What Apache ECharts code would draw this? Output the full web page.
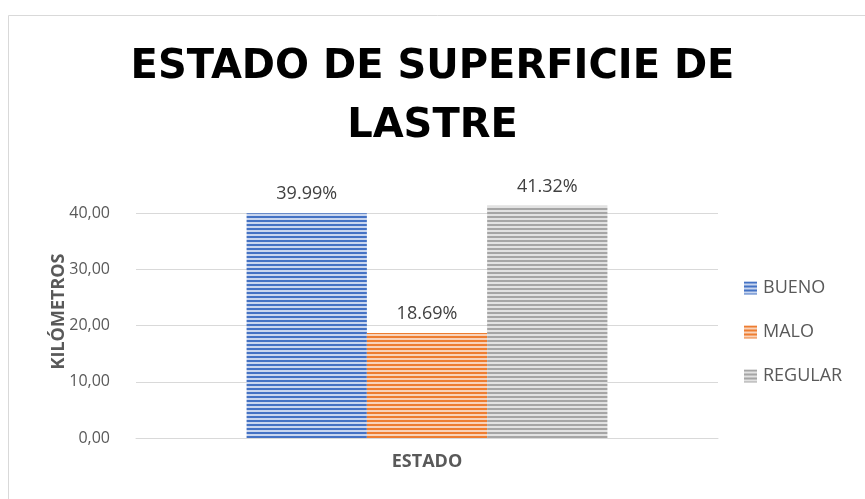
<!DOCTYPE html>
<html>
<head>
<meta charset="utf-8">
<title>Estado de superficie de lastre</title>
<script src="https://cdn.jsdelivr.net/npm/echarts@6/dist/echarts.min.js"></script>
<style>
  html, body { margin: 0; padding: 0; background: #fff; }
  #chart { width: 865px; height: 499px; }
</style>
</head>
<body>
<div id="chart"></div>
<script>
  // datos
  const categories = [''];
  const seriesNames = ['BUENO', 'MALO', 'REGULAR'];
  const seriesValues = [[39.99], [18.69], [41.32]];
  const seriesColors = ['#4472C4', '#ED7D31', '#A5A5A5'];
  const stripeColors = ['#C9D6EF', '#F9D3BA', '#E2E2E2'];

  // rayado horizontal como en Excel
  function stripes(dark, light) {
    const c = document.createElement('canvas');
    c.width = 4;
    c.height = 4;
    const ctx = c.getContext('2d');
    ctx.fillStyle = light;
    ctx.fillRect(0, 0, 4, 4);
    ctx.fillStyle = dark;
    ctx.fillRect(0, 0, 4, 2);
    return { image: c, repeat: 'repeat' };
  }

  const chart = echarts.init(document.getElementById('chart'));

  const series = seriesNames.map((name, i) => ({
    name: name,
    type: 'bar',
    data: seriesValues[i],
    barGap: '0%',
    barCategoryGap: '38%',
    itemStyle: { color: stripes(seriesColors[i], stripeColors[i]) },
    label: {
      show: true,
      position: 'top',
      distance: 10,
      formatter: (p) => p.value.toFixed(2) + '%',
      fontFamily: 'Open Sans',
      fontSize: 18,
      color: '#404040',
    },
  }));

  const option = {
    backgroundColor: '#fff',
    animation: false,
    graphic: [
      {
        type: 'rect',
        shape: { x: 8.5, y: 15.5, width: 900, height: 600 },
        style: { fill: 'none', stroke: '#D9D9D9', lineWidth: 1 },
      },
    ],
    title: {
      text: 'ESTADO DE SUPERFICIE DE\nLASTRE',
      left: 'center',
      top: 33,
      textStyle: {
        fontFamily: 'DejaVu Sans',
        fontWeight: 'bold',
        fontSize: 40,
        lineHeight: 59,
        color: '#000',
      },
    },
    legend: {
      orient: 'vertical',
      left: 739,
      top: 274,
      itemWidth: 13,
      itemHeight: 13,
      itemGap: 26,
      icon: 'rect',
      textStyle: {
        fontFamily: 'Open Sans',
        fontSize: 18,
        color: '#595959',
        padding: [0, 0, 0, 1],
      },
    },
    grid: { left: 136, right: 147, top: 185, bottom: 61, containLabel: false },
    xAxis: {
      type: 'category',
      data: categories,
      name: 'ESTADO',
      nameLocation: 'middle',
      nameGap: 15,
      nameTextStyle: {
        fontFamily: 'Open Sans',
        fontWeight: 'bold',
        fontSize: 18,
        color: '#595959',
      },
      axisLine: { lineStyle: { color: '#D9D9D9' } },
      axisTick: { show: false },
      axisLabel: { show: false },
    },
    yAxis: {
      type: 'value',
      min: 0,
      max: 45,
      interval: 10,
      name: 'KILÓMETROS',
      nameLocation: 'middle',
      nameGap: 68,
      nameMoveOverlap: false,
      nameTextStyle: {
        fontFamily: 'Open Sans',
        fontWeight: 'bold',
        fontSize: 18,
        color: '#595959',
      },
      axisLine: { show: false },
      axisTick: { show: false },
      axisLabel: {
        showMaxLabel: false,
        margin: 26,
        fontFamily: 'Open Sans',
        fontSize: 16,
        color: '#595959',
        formatter: (v) => v.toFixed(2).replace('.', ','),
      },
      splitLine: { showMaxLine: false, lineStyle: { color: '#D9D9D9' } },
    },
    series: series,
  };

  chart.setOption(option);
</script>
</body>
</html>
